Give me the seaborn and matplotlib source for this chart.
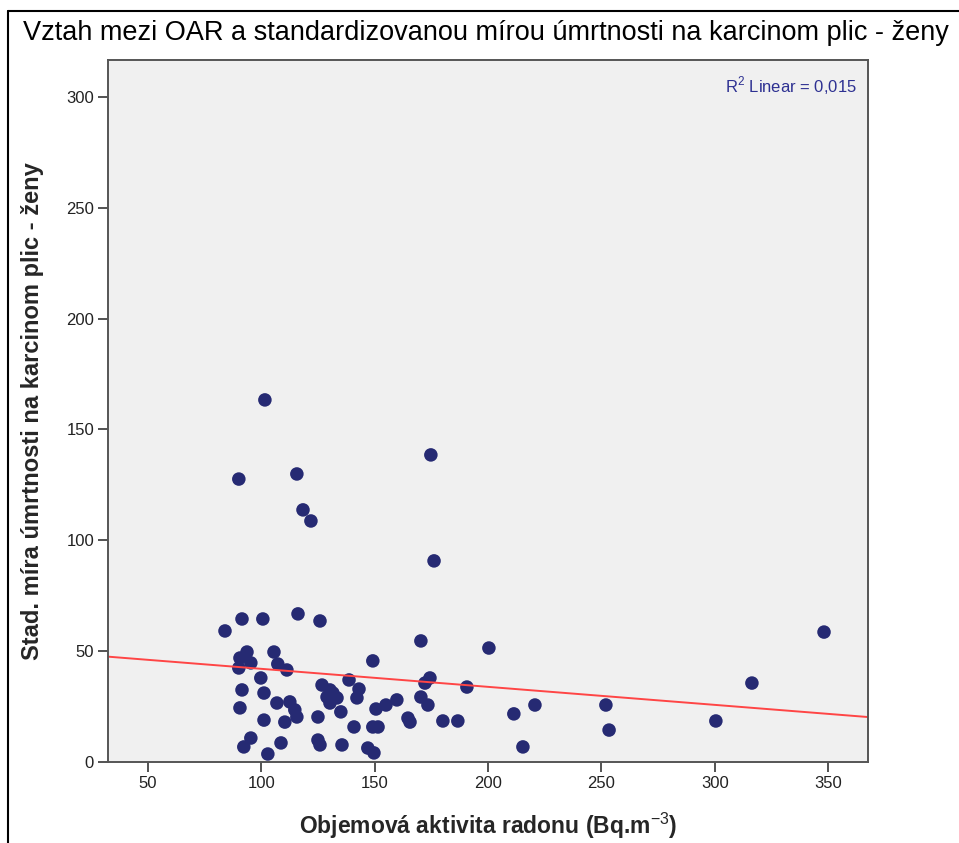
import matplotlib
matplotlib.use("Agg")
import matplotlib.pyplot as plt
import seaborn as sns
import pandas as pd
from matplotlib.lines import Line2D

# Data
radon = [101.6, 90.1, 115.7, 118.4, 121.9, 174.8, 176.2, 84.0, 91.5, 100.7,
         116.2, 125.9, 170.4, 200.4, 348.2, 316.4, 93.7, 90.6, 90.1, 95.4,
         105.6, 107.3, 111.3, 99.8, 91.5, 101.2, 106.9, 112.6, 114.8, 115.7,
         110.4, 90.6, 101.2, 95.4, 92.3, 108.7, 102.9, 126.8, 130.3, 131.6,
         133.4, 129.0, 130.3, 138.7, 143.1, 142.2, 135.1, 125.0, 140.9, 125.0,
         125.9, 135.6, 149.2, 150.6, 155.0, 159.8, 164.7, 165.6, 149.2, 151.5,
         147.0, 149.7, 174.4, 172.2, 170.4, 173.5, 180.1, 186.7, 190.7, 211.4,
         220.7, 215.4, 252.0, 253.4, 300.5]
mortality = [163.3, 127.6, 129.9, 113.7, 108.7, 138.5, 90.7, 59.1, 64.5, 64.5,
             66.8, 63.6, 54.6, 51.4, 58.6, 35.6, 49.6, 46.9, 42.4, 44.7,
             49.6, 44.2, 41.5, 37.9, 32.5, 31.1, 26.6, 27.1, 23.5, 20.3,
             18.0, 24.4, 18.9, 10.8, 6.8, 8.6, 3.6, 34.7, 32.5, 31.1,
             28.9, 29.3, 26.6, 37.0, 32.9, 28.9, 22.6, 20.3, 15.8, 9.9,
             7.7, 7.7, 45.6, 23.9, 25.7, 28.0, 19.8, 18.0, 15.8, 15.8,
             6.3, 4.1, 37.9, 35.6, 29.3, 25.7, 18.5, 18.5, 33.8, 21.7,
             25.7, 6.8, 25.7, 14.4, 18.5]
x_ticks = [50, 100, 150, 200, 250, 300, 350]
y_ticks = [0, 50, 100, 150, 200, 250, 300]

title = "Vztah mezi OAR a standardizovanou mírou úmrtnosti na karcinom plic - ženy"
xlabel = "Objemová aktivita radonu (Bq.m$^{-3}$)"
ylabel = "Stad. míra úmrtnosti na karcinom plic - ženy"
r2_text = "R$^{2}$ Linear = 0,015"

df = pd.DataFrame({"radon": radon, "mortality": mortality})

sns.set_theme(style="white")
plt.rcParams['font.family'] = ['Liberation Sans', 'DejaVu Sans']
plt.rcParams['mathtext.fontset'] = 'custom'
plt.rcParams['mathtext.rm'] = 'Liberation Sans'
plt.rcParams['mathtext.bf'] = 'Liberation Sans:bold'

fig = plt.figure(figsize=(9.59, 8.43), dpi=100)
ax = fig.add_axes([108/959, 81/843, 760/959, 702/843])
ax.set_facecolor("#F0F0F0")
ax.set_xlim(32.4, 367.6)
ax.set_ylim(0, 316.6)

navy = "#262A73"
sns.regplot(data=df, x="radon", y="mortality", ax=ax, ci=None, truncate=False,
            scatter_kws=dict(s=95, color=navy, edgecolor="none", alpha=1),
            line_kws=dict(color="#FF4545", lw=1.4))

ax.set_xlim(32.4, 367.6)
ax.set_ylim(0, 316.6)
ax.set_xticks(x_ticks)
ax.set_yticks(y_ticks)
ax.tick_params(axis="both", direction="out", length=7, width=1.3,
               color="#444444", labelsize=12, labelcolor="#222222",
               bottom=True, left=True, pad=3)
for sp in ax.spines.values():
    sp.set_color("#555555")
    sp.set_linewidth(1.4)

ax.set_xlabel(xlabel, fontsize=16.5, fontweight="bold", labelpad=14)
ax.set_ylabel(ylabel, fontsize=17, fontweight="bold", labelpad=16)

ax.text(0.985, 0.963, r2_text, transform=ax.transAxes, ha="right", va="center",
        fontsize=12, color="#2E3192")

fig.text(0.507, 0.961, title, ha="center", va="center", fontsize=19.5, color="black")

# figure frame lines (left and top)
fig.add_artist(Line2D([7.5/959, 7.5/959], [0, 1 - 11/843], transform=fig.transFigure,
                      color="black", lw=1.5))
fig.add_artist(Line2D([7.5/959, 1], [1 - 11/843, 1 - 11/843], transform=fig.transFigure,
                      color="black", lw=1.5))

fig.savefig("out.png", dpi=100)
